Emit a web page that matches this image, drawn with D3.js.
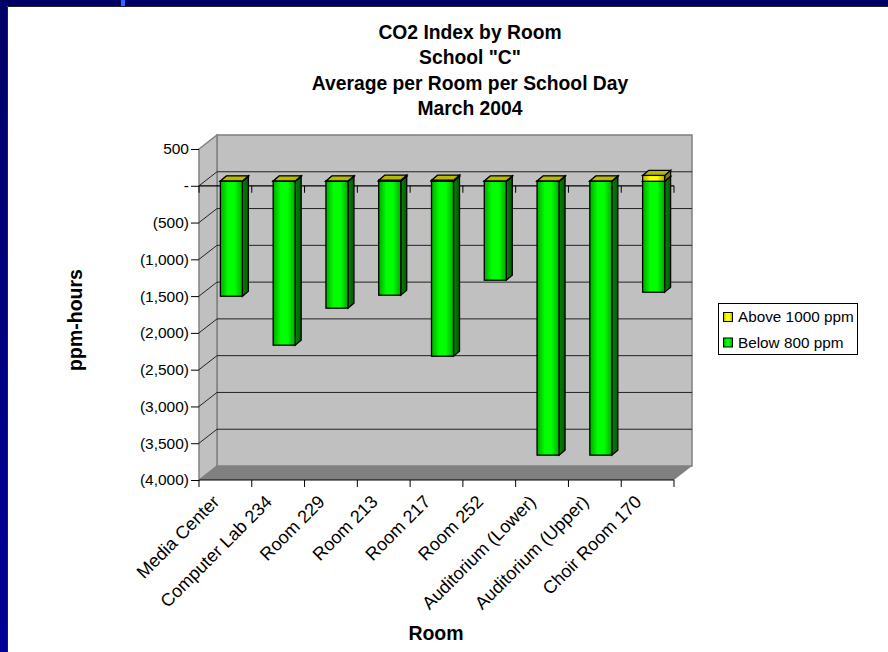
<!DOCTYPE html>
<html>
<head>
<meta charset="utf-8">
<script src="https://cdnjs.cloudflare.com/ajax/libs/d3/7.8.5/d3.min.js"></script>
<style>
html, body { margin: 0; padding: 0; background: #fff; }
svg { display: block; }
text { font-family: "Liberation Sans", Arial, sans-serif; fill: #000; }
</style>
</head>
<body>
<svg id="chart" width="888" height="652"></svg>
<script>
var rooms = ["Media Center", "Computer Lab 234", "Room 229", "Room 213", "Room 217",
    "Room 252", "Auditorium (Lower)", "Auditorium (Upper)", "Choir Room 170"];
var below800 = [-1563, -2228, -1725, -1549, -2378, -1345, -3723, -3723, -1508];
var above1000 = [5, 5, 5, 15, 15, 5, 5, 5, 80];
var yTicks = [500, 0, -500, -1000, -1500, -2000, -2500, -3000, -3500, -4000];
var titleLines = ["CO2 Index by Room", 'School "C"', "Average per Room per School Day", "March 2004"];
var legendItems = ["Above 1000 ppm", "Below 800 ppm"];

var svg = d3.select("#chart");

// page frame
svg.append("rect").attr("width", 888).attr("height", 652).attr("fill", "#fff");
svg.append("rect").attr("width", 888).attr("height", 6).attr("fill", "#000066");
svg.append("rect").attr("width", 7).attr("height", 652).attr("fill", "url(#frame)");
svg.append("rect").attr("x", 121).attr("width", 4).attr("height", 6).attr("fill", "#3366ff");
svg.append("path").attr("d", "M7.5,652V6.5H888").attr("fill", "none").attr("stroke", "#222");

var defs = svg.append("defs");
var frame = defs.append("linearGradient").attr("id", "frame").attr("x1", 0).attr("x2", 0).attr("y1", 0).attr("y2", 1);
frame.append("stop").attr("offset", 0).attr("stop-color", "#000066");
frame.append("stop").attr("offset", 1).attr("stop-color", "#000099");

function barGradient(id, edge, mid) {
    var g = defs.append("linearGradient").attr("id", id);
    g.append("stop").attr("offset", 0).attr("stop-color", edge);
    g.append("stop").attr("offset", 0.35).attr("stop-color", mid);
    g.append("stop").attr("offset", 0.65).attr("stop-color", mid);
    g.append("stop").attr("offset", 1).attr("stop-color", edge);
}
barGradient("green", "#00a800", "#00ff00");
barGradient("yellow", "#b0b000", "#ffff00");
var greenSide = defs.append("linearGradient").attr("id", "greenSide");
greenSide.append("stop").attr("offset", 0).attr("stop-color", "#008800");
greenSide.append("stop").attr("offset", 1).attr("stop-color", "#005a00");

var x = d3.scaleBand().domain(rooms).range([199, 674]);
var y = d3.scaleLinear().domain([-4000, 500]).range([480, 149]);

// depth of the 3D box and of the bars
var depthX = 18, depthY = -14;
var barDX = 6, barDY = -4.5, capX = 6, capY = -5;
var barW = 22;

var wall = svg.append("g");
// back wall, side wall, floor
wall.append("path")
    .attr("d", d3.line()([[x.range()[0] + depthX, y(500) + depthY], [x.range()[1] + depthX, y(500) + depthY],
        [x.range()[1] + depthX, y(-4000) + depthY], [x.range()[0] + depthX, y(-4000) + depthY]]) + "Z")
    .attr("fill", "#c0c0c0").attr("stroke", "#808080").attr("stroke-width", 1.5);
wall.append("path")
    .attr("d", d3.line()([[199, y(500)], [199 + depthX, y(500) + depthY], [199 + depthX, y(-4000) + depthY], [199, y(-4000)]]) + "Z")
    .attr("fill", "#c0c0c0").attr("stroke", "#808080").attr("stroke-width", 1.5);
wall.append("path")
    .attr("d", d3.line()([[199, y(-4000)], [199 + depthX, y(-4000) + depthY], [674 + depthX, y(-4000) + depthY], [674, y(-4000)]]) + "Z")
    .attr("fill", "#808080");

// gridlines along side and back wall
var grid = yTicks.filter(function(d) { return d !== 500 && d !== -4000; });
svg.append("g").selectAll("path").data(grid).join("path")
    .attr("d", function(d) {
        return d3.line()([[199, y(d)], [199 + depthX, y(d) + depthY], [674 + depthX, y(d) + depthY]]);
    })
    .attr("fill", "none").attr("stroke", "#222").attr("stroke-width", 1);

// y axis
var yAxis = d3.axisLeft(y).tickValues(yTicks).tickSize(8).tickPadding(2)
    .tickFormat(function(d) {
        if (d === 0) return "-";
        return d < 0 ? "(" + d3.format(",")(-d) + ")" : d3.format(",")(d);
    });
var yG = svg.append("g").attr("transform", "translate(199,0)").call(yAxis);
yG.select(".domain").remove();
yG.selectAll("text").attr("font-size", 15.5).attr("font-family", "Liberation Sans");
yG.selectAll("line").attr("stroke", "#000");

// x axes: one at zero, one at the floor
function xTicks(level) {
    var g = svg.append("g");
    g.append("line").attr("x1", 199).attr("x2", 674).attr("y1", y(level)).attr("y2", y(level)).attr("stroke", "#000").attr("stroke-width", 1.2);
    g.selectAll("line.t").data(rooms.concat(["end"])).join("line").attr("class", "t")
        .attr("x1", function(d) { return d === "end" ? 674 : x(d); })
        .attr("x2", function(d) { return d === "end" ? 674 : x(d); })
        .attr("y1", y(level)).attr("y2", y(level) + 7).attr("stroke", "#000");
}
xTicks(0);
xTicks(-4000);

// bars
function barX(d) { return x(d) + (x.bandwidth() - barW) / 2 + barDX; }
function drawBar(g, room, top, bottom, fill, sideFill, capFill) {
    var xl = barX(room), yt = y(top) + barDY, yb = y(bottom) + barDY;
    g.append("path")
        .attr("d", d3.line()([[xl + barW, yt], [xl + barW + capX, yt + capY], [xl + barW + capX, yb + capY], [xl + barW, yb]]) + "Z")
        .attr("fill", sideFill).attr("stroke", "#000").attr("stroke-width", 1.3);
    g.append("rect").attr("x", xl).attr("y", yt).attr("width", barW).attr("height", yb - yt)
        .attr("fill", fill).attr("stroke", "#000").attr("stroke-width", 1.3);
    g.append("path")
        .attr("d", d3.line()([[xl, yt], [xl + capX, yt + capY], [xl + barW + capX, yt + capY], [xl + barW, yt]]) + "Z")
        .attr("fill", capFill).attr("stroke", "#000").attr("stroke-width", 1.3);
}
var bars = svg.append("g");
rooms.forEach(function(room, i) {
    var g = bars.append("g");
    drawBar(g, room, 0, below800[i], "url(#green)", "url(#greenSide)", "#00c000");
    drawBar(g, room, above1000[i], 0, "url(#yellow)", "#808000", "#b8b800");
});

// category labels
svg.append("g").selectAll("text").data(rooms).join("text")
    .attr("transform", function(d) { return "translate(" + (x(d) + x.bandwidth() / 2 - 5) + ",503) rotate(-45)"; })
    .attr("text-anchor", "end").attr("font-size", 18).text(function(d) { return d; });

// titles
svg.append("g").selectAll("text").data(titleLines).join("text")
    .attr("x", 470).attr("y", function(d, i) { return 39 + i * 25.3; })
    .attr("text-anchor", "middle").attr("font-size", 19.3).attr("font-weight", "bold")
    .text(function(d) { return d; });
svg.append("text").attr("transform", "translate(82,320) rotate(-90)")
    .attr("text-anchor", "middle").attr("font-size", 19.5).attr("font-weight", "bold").text("ppm-hours");
svg.append("text").attr("x", 436).attr("y", 640)
    .attr("text-anchor", "middle").attr("font-size", 19.5).attr("font-weight", "bold").text("Room");

// legend
var legend = svg.append("g");
legend.append("rect").attr("x", 718.5).attr("y", 303.5).attr("width", 139).attr("height", 51)
    .attr("fill", "#fff").attr("stroke", "#000");
var item = legend.selectAll("g").data(legendItems).join("g")
    .attr("transform", function(d, i) { return "translate(0," + (i * 25.5) + ")"; });
item.append("rect").attr("x", 723.5).attr("y", 312.5).attr("width", 9).attr("height", 9)
    .attr("fill", function(d, i) { return i === 0 ? "url(#yellow)" : "url(#green)"; })
    .attr("stroke", "#000");
item.append("text").attr("x", 738).attr("y", 322).attr("font-size", 15.3).text(function(d) { return d; });
</script>
</body>
</html>
